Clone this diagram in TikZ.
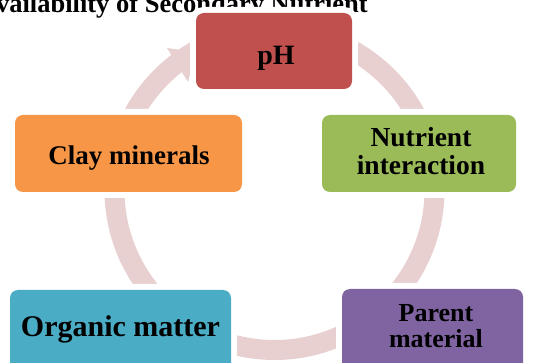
\documentclass[tikz,border=0pt]{standalone}
\usepackage{fontspec}
\setmainfont{Liberation Serif}
\definecolor{ringpink}{RGB}{232,208,209}
\definecolor{phred}{HTML}{C0504D}
\definecolor{clayor}{HTML}{F79646}
\definecolor{nutgreen}{HTML}{9BBB59}
\definecolor{orgteal}{HTML}{4BACC6}
\definecolor{parpurple}{HTML}{8064A2}
\tikzset{
  box/.style={rounded corners=8pt, inner sep=0pt,
    preaction={draw=white, line width=12pt}},
  lbl/.style={inner sep=0pt, anchor=base, align=center},
}
\newcommand{\lblfont}[1]{\bfseries\fontsize{#1}{28}\selectfont}
\begin{document}
\begin{tikzpicture}[x=1pt,y=-1pt]
\useasboundingbox (0,0) rectangle (533,363);
\clip (0,0) rectangle (533,363);
% title
\node[anchor=base east, inner sep=0pt, font=\bfseries\fontsize{26.5}{28}\selectfont] (title) at (368,12.5) {Availability of Secondary Nutrient};
% ring
\draw[ringpink, line width=20pt] (274.5,190) circle[radius=160];
\fill[ringpink] (167,48) -- (196,52) -- (188,82) -- cycle;
% boxes
\node[box, fill=phred, minimum width=156pt, minimum height=76pt] (ph) at (274,51) {};
\node[box, fill=clayor, minimum width=227pt, minimum height=77pt] (clay) at (128.5,153.5) {};
\node[box, fill=nutgreen, minimum width=194pt, minimum height=77pt] (nut) at (419,153.5) {};
\node[box, fill=orgteal, minimum width=221pt, minimum height=82pt] (org) at (120.5,331) {};
\node[box, fill=parpurple, minimum width=181pt, minimum height=83pt] (par) at (432.5,330.5) {};
% labels
\node[lbl, font=\lblfont{28}] (phl) at (276,65) {pH};
\node[lbl, font=\lblfont{27}] (clayl) at (129,165) {Clay minerals};
\node[lbl, font=\lblfont{27.5}] (nutl1) at (421,147) {Nutrient};
\node[lbl, font=\lblfont{27.5}] (nutl2) at (421,175) {interaction};
\node[lbl, font=\lblfont{30}] (orgl) at (120.5,337) {Organic matter};
\node[lbl, font=\lblfont{26}] (parl1) at (436,322) {Parent};
\node[lbl, font=\lblfont{26}] (parl2) at (436,348) {material};
\end{tikzpicture}
\end{document}
